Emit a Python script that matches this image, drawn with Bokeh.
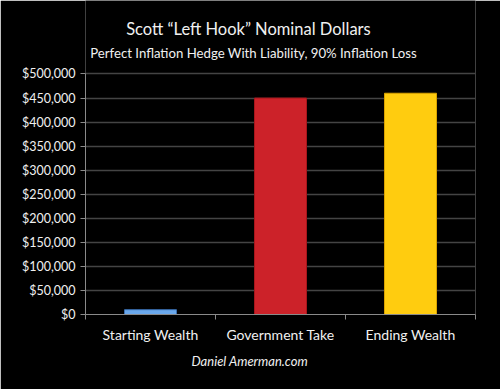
from bokeh.plotting import figure
from bokeh.models import (ColumnDataSource, FixedTicker, Label, Title, NumeralTickFormatter, Range1d)
from bokeh.embed import file_html
from bokeh.resources import INLINE

categories = ["Starting Wealth", "Government Take", "Ending Wealth"]
values = [10000, 450000, 460000]
fill_colors = ["#6aa8ec", "#cc2229", "#ffcc0f"]
line_colors = ["#3a6eb0", "#a8161c", "#d9a200"]
y_ticks = [0, 50000, 100000, 150000, 200000, 250000, 300000, 350000, 400000, 450000, 500000]
title_text = "Scott \u201cLeft Hook\u201d Nominal Dollars"
subtitle_text = "Perfect Inflation Hedge With Liability, 90% Inflation Loss"
footer_text = "Daniel Amerman.com"

FONT = "Lato"
Y_AXIS_MAX = 500000
Y_VIEW_MAX = 652800   # headroom above the axis where the titles sit

xs = [i + 0.5 for i in range(len(categories))]
src = ColumnDataSource(dict(x=xs, top=values, fill=fill_colors, line=line_colors, name=categories))

p = figure(width=500, height=389, output_backend="svg", toolbar_location=None,
           title_location=None,
           x_range=Range1d(0, 3), y_range=Range1d(0, Y_VIEW_MAX),
           background_fill_color="black", border_fill_color="black",
           outline_line_color=None,
           min_border_left=85, min_border_right=25, min_border_top=0, min_border_bottom=75)

p.vbar(x="x", top="top", width=0.4, source=src, fill_color="fill", line_color="line", line_width=1)

# titles drawn inside the (extended) frame, screen units relative to frame
for txt, sx, sy, size in [(title_text, 163, 286, "16.5px"),
                          (subtitle_text, 168, 262, "13.2px")]:
    p.add_layout(Label(x=sx, y=sy, x_units="screen", y_units="screen", text=txt,
                       text_font=FONT, text_font_size=size, text_font_style="normal",
                       text_color="#f0f0f0", text_align="center", text_baseline="middle"))

foot = Title(text=footer_text, text_font=FONT, text_font_size="13px",
             text_font_style="italic", text_color="#f0f0f0", align="left", offset=106)
p.add_layout(foot, "below")

# y axis
p.yaxis.ticker = FixedTicker(ticks=y_ticks)
p.yaxis.bounds = (0, Y_AXIS_MAX)
p.yaxis.formatter = NumeralTickFormatter(format="$0,0")
p.yaxis.major_label_text_font = FONT
p.yaxis.major_label_text_font_size = "12.5px"
p.yaxis.major_label_text_color = "#f0f0f0"
p.yaxis.axis_line_color = "#8a8a8a"
p.yaxis.major_tick_line_color = "#8a8a8a"
p.yaxis.major_tick_out = 5
p.yaxis.major_tick_in = 0
p.yaxis.minor_tick_line_color = None

# x axis
p.xaxis.ticker = FixedTicker(ticks=xs, minor_ticks=[0, 1, 2, 3])
p.xaxis.major_label_overrides = {x: c for x, c in zip(xs, categories)}
p.xaxis.major_label_text_font = FONT
p.xaxis.major_label_text_font_size = "14px"
p.xaxis.major_label_text_color = "#f0f0f0"
p.xaxis.axis_line_color = "#8a8a8a"
p.xaxis.major_tick_line_color = None
p.xaxis.minor_tick_line_color = "#8a8a8a"
p.xaxis.minor_tick_out = 5
p.xaxis.minor_tick_in = 0

p.xgrid.grid_line_color = None
p.ygrid.grid_line_color = "#444444"
p.ygrid.grid_line_width = 1.5

open("out.html", "w").write(file_html(p, INLINE))
